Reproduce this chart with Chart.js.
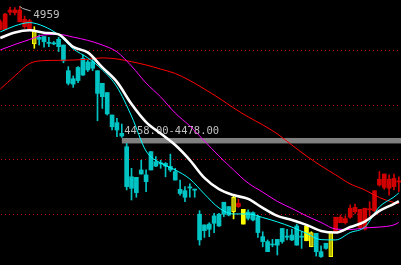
<!DOCTYPE html>
<html>
<head>
<meta charset="utf-8">
<script src="https://cdn.jsdelivr.net/npm/chart.js@4.4.1/dist/chart.umd.min.js"></script>
<style>
  html, body { margin: 0; padding: 0; background: #000; overflow: hidden; }
  #wrap { width: 401px; height: 265px; }
</style>
</head>
<body>
<div id="wrap"><canvas id="kline"></canvas></div>
<script>
// candle data, one entry per bar
const opens  = [4875,4875,4938,4936,4903,4885,4875,4870,4846,4849,4828,4826,4839,4818,4724,4695,4736,4769,4756,4757,
                4724,4678,4644,4562,4534,4495,4446,4336,4334,4361,4343,4428,4391,4387,4385,4374,4355,4290,4285,4299,
                4291,4199,4160,4163,4193,4199,4243,4227,4261,4227,4217,4207,4205,4190,4117,4099,4090,4107,4147,4119,
                4123,4156,4119,4156,4132,4129,4062,4093,4135,4135,4168,4168,4188,4208,4151,4144,4215,4211,4306,4297,
                4294,4300,4317];
const highs  = [4910,4934,4957,4955,4959,4924,4912,4885,4855,4849,4846,4831,4846,4818,4739,4705,4739,4781,4763,4773,
                4724,4678,4644,4562,4550,4529,4458,4367,4334,4397,4361,4428,4410,4397,4388,4419,4367,4324,4300,4310,
                4291,4212,4160,4168,4202,4202,4243,4227,4266,4254,4217,4215,4208,4196,4135,4105,4107,4107,4147,4144,
                4144,4163,4135,4156,4135,4129,4083,4093,4135,4188,4196,4193,4233,4236,4217,4221,4245,4285,4355,4346,
                4343,4346,4336];
const lows   = [4873,4873,4928,4928,4903,4879,4873,4806,4818,4810,4812,4819,4794,4753,4672,4663,4680,4707,4721,4724,
                4541,4586,4562,4507,4483,4480,4288,4251,4261,4346,4282,4361,4373,4367,4336,4355,4324,4269,4245,4261,
                4261,4086,4114,4117,4132,4154,4190,4193,4182,4224,4163,4178,4175,4114,4080,4062,4080,4050,4093,4105,
                4102,4086,4074,4102,4080,4046,4041,4071,4044,4132,4168,4163,4184,4202,4147,4141,4192,4208,4302,4290,
                4269,4288,4282];
const closes = [4903,4931,4946,4946,4946,4912,4907,4822,4839,4830,4824,4822,4812,4760,4678,4675,4688,4708,4727,4733,
                4641,4629,4566,4519,4507,4485,4300,4294,4278,4346,4318,4361,4375,4383,4375,4361,4324,4275,4261,4295,
                4287,4105,4139,4144,4166,4156,4199,4196,4208,4239,4163,4184,4178,4132,4099,4062,4087,4086,4099,4115,
                4105,4086,4115,4102,4080,4062,4044,4074,4044,4188,4188,4183,4221,4224,4217,4221,4219,4285,4327,4346,
                4327,4330,4321];

// bars the software highlights in yellow
const markedOutline = [7, 48, 64, 68];
const markedSolid = [50, 63];

// moving averages, sampled every third bar
const maIdx = [0,3,6,9,12,15,18,21,24,27,30,33,36,39,42,45,48,51,54,57,60,63,66,69,72,75,78,81,82];
const ma5  = [4866,4888,4900,4886,4855,4804,4771,4727,4665,4558,4430,4386,4361,4328,4273,4222,4200,4200,4187,4171,
              4152,4129,4106,4105,4132,4152,4226,4262,4277];
const ma10 = [4844,4864,4872,4863,4857,4811,4791,4736,4683,4602,4536,4494,4452,4397,4332,4291,4269,4255,4222,4193,
              4178,4160,4138,4132,4152,4172,4211,4237,4247];
const ma20 = [4800,4820,4838,4855,4857,4847,4835,4818,4793,4741,4679,4628,4569,4522,4467,4412,4361,4313,4280,4246,
              4220,4193,4169,4145,4143,4149,4152,4160,4169];
const ma60 = [4657,4705,4750,4761,4762,4763,4766,4771,4767,4757,4745,4730,4714,4688,4657,4624,4588,4555,4526,4493,
              4452,4412,4376,4343,4310,4288,4260,4242,4238];

const yTicks = [4200, 4400, 4600, 4800];

// pressure zone drawn as a grey band
const zoneLow = 4458;
const zoneHigh = 4478;
const zoneStart = 25;
const zoneLabel = '4458.00-4478.00';

const RED = '#d00000';
const CYAN = '#00c4c4';
const YELLOW = '#ffff00';
const OLIVE = '#b4b400';

function candleColor(i) {
    if (markedSolid.includes(i)) return YELLOW;
    if (markedOutline.includes(i)) return OLIVE;
    return closes[i] >= opens[i] ? RED : CYAN;
}
function wickColor(i) {
    if (markedSolid.includes(i) || markedOutline.includes(i)) return YELLOW;
    return closes[i] >= opens[i] ? RED : CYAN;
}

function maLine(values, color, width) {
    return {
        type: 'line',
        data: maIdx.map((x, k) => ({ x: x, y: values[k] })),
        borderColor: color,
        borderWidth: width,
        pointRadius: 0,
        cubicInterpolationMode: 'monotone',
        order: 0
    };
}

// dotted grid, grey band, its label and the max-price marker
const annotations = {
    id: 'annotations',
    beforeDatasetsDraw(chart) {
        const { ctx, chartArea, scales: { x, y } } = chart;
        ctx.save();
        // dotted price lines, one pixel dot every 4px
        ctx.fillStyle = '#c80000';
        y.ticks.forEach(t => {
            const py = Math.round(y.getPixelForValue(t.value));
            for (let px = chartArea.left + 1; px < chartArea.right; px += 4) {
                ctx.fillRect(px, py, 1, 1);
            }
        });
        const top = y.getPixelForValue(zoneHigh);
        const bottom = y.getPixelForValue(zoneLow);
        const left = x.getPixelForValue(zoneStart);
        ctx.fillStyle = '#808080';
        ctx.fillRect(left, top, chartArea.right - left, bottom - top);
        ctx.fillStyle = '#c0c0c0';
        ctx.font = '10.5px "DejaVu Sans Mono"';
        ctx.textBaseline = 'alphabetic';
        ctx.fillText(zoneLabel, left + 2.5, top - 4);
        ctx.restore();
    },
    afterDatasetsDraw(chart) {
        const { ctx, scales: { x, y } } = chart;
        const maxHigh = Math.max(...highs);
        const k = highs.indexOf(maxHigh);
        const px = x.getPixelForValue(k);
        const py = y.getPixelForValue(maxHigh);
        ctx.save();
        ctx.strokeStyle = '#b0b0b0';
        ctx.lineWidth = 1;
        ctx.beginPath();
        ctx.moveTo(px, py);
        ctx.lineTo(px + 3, py + 2);
        ctx.lineTo(px + 11, py + 4.5);
        ctx.stroke();
        ctx.fillStyle = '#c0c0c0';
        ctx.font = '11px "DejaVu Sans Mono"';
        ctx.fillText(String(maxHigh), px + 13.5, py + 11.6);
        ctx.restore();
    }
};

const chart = new Chart(document.getElementById('kline'), {
    data: {
        datasets: [
            maLine(ma10, '#ffffff', 2.6),
            maLine(ma5, '#00ffff', 1),
            maLine(ma20, '#ff00ff', 1),
            maLine(ma60, '#ff0000', 1),
            {
                type: 'bar',
                data: opens.map((o, i) => ({ x: i, y: [o, closes[i]] })),
                backgroundColor: c => candleColor(c.dataIndex),
                borderColor: YELLOW,
                borderWidth: c => markedOutline.includes(c.dataIndex) ? 1 : 0,
                borderSkipped: false,
                barThickness: 4,
                grouped: false,
                order: 1
            },
            {
                type: 'bar',
                data: lows.map((l, i) => ({ x: i, y: [l, highs[i]] })),
                backgroundColor: c => wickColor(c.dataIndex),
                borderWidth: 0,
                barThickness: 1,
                grouped: false,
                order: 2
            }
        ]
    },
    options: {
        responsive: true,
        maintainAspectRatio: false,
        animation: false,
        events: [],
        layout: { padding: 0 },
        plugins: {
            legend: { display: false },
            tooltip: { enabled: false }
        },
        scales: {
            x: {
                type: 'linear',
                min: -0.06,
                max: 82.45,
                offset: false,
                display: false
            },
            y: {
                type: 'linear',
                min: 4013.3,
                max: 4982.7,
                afterBuildTicks: scale => { scale.ticks = yTicks.map(v => ({ value: v })); },
                afterFit: scale => { scale.width = 0; },
                ticks: { display: false },
                grid: { display: false, drawTicks: false },
                border: { display: false }
            }
        }
    },
    plugins: [annotations]
});
</script>
</body>
</html>
